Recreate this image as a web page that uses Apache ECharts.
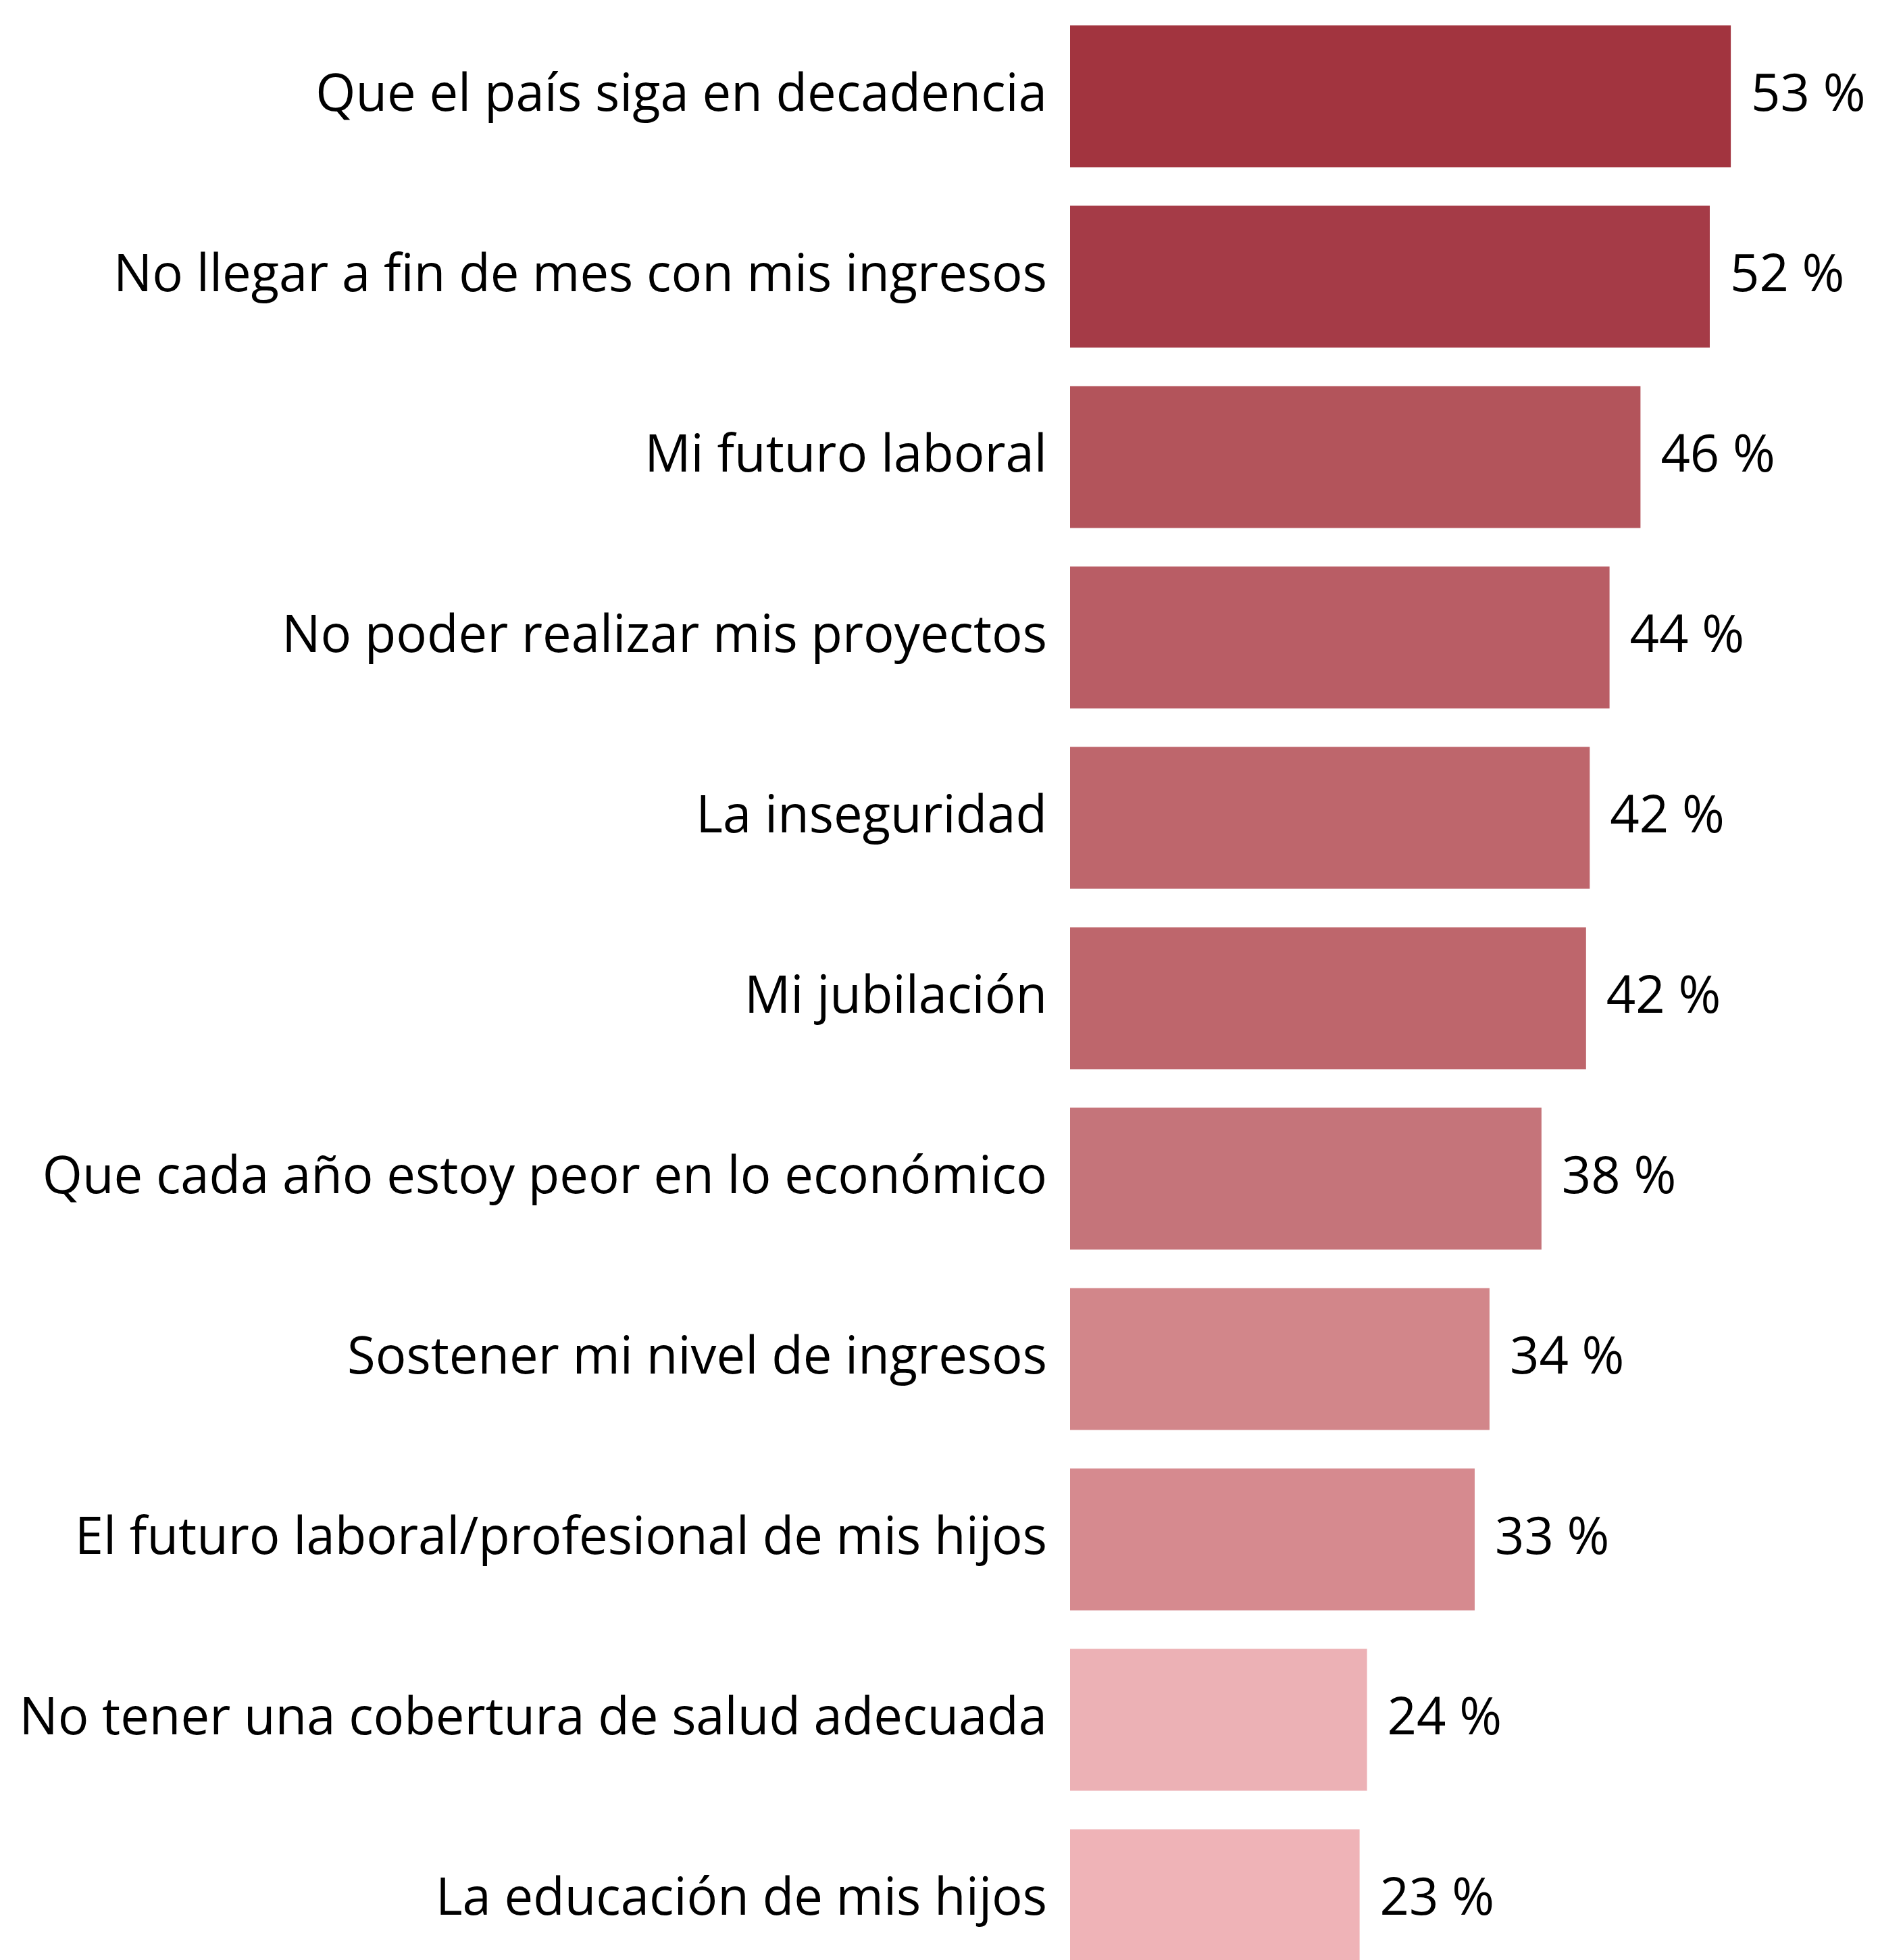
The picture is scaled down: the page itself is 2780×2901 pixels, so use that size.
<!DOCTYPE html>
<html>
<head>
<meta charset="utf-8">
<script src="https://cdn.jsdelivr.net/npm/echarts@6/dist/echarts.min.js"></script>
<style>
  html, body { margin: 0; padding: 0; background: #fff; }
  #chart { width: 2780px; height: 2901px; }
</style>
</head>
<body>
<div id="chart"></div>
<script>
// categorías de arriba hacia abajo
const categories = [
  'Que el país siga en decadencia',
  'No llegar a fin de mes con mis ingresos',
  'Mi futuro laboral',
  'No poder realizar mis proyectos',
  'La inseguridad',
  'Mi jubilación',
  'Que cada año estoy peor en lo económico',
  'Sostener mi nivel de ingresos',
  'El futuro laboral/profesional de mis hijos',
  'No tener una cobertura de salud adecuada',
  'La educación de mis hijos',
];
const values = [53.4, 51.7, 46.1, 43.6, 42.0, 41.7, 38.1, 33.9, 32.7, 24.0, 23.4];
const colors = [
  '#A2343F', '#A53B47', '#B3545B', '#B95D65', '#BE666C', '#BE666C',
  '#C5747A', '#D2868A', '#D68A8F', '#ECB1B5', '#EFB3B7',
];

const chart = echarts.init(document.getElementById('chart'));
chart.setOption({
  animation: false,
  grid: { left: 1584, right: 97, top: 9, height: 2937, outerBoundsMode: 'none' },
  xAxis: { type: 'value', min: 0, max: 60, show: false },
  yAxis: {
    type: 'category',
    inverse: true,
    data: categories,
    axisLine: { show: false },
    axisTick: { show: false },
    axisLabel: {
      fontFamily: 'Open Sans', fontSize: 76, color: '#000', margin: 34,
      padding: [11, 0, 0, 0],
    },
  },
  series: [{
    type: 'bar',
    barWidth: 210,
    data: values.map((v, i) => ({ value: v, itemStyle: { color: colors[i] } })),
    label: {
      show: true,
      position: 'right',
      distance: 30,
      fontFamily: 'Open Sans',
      fontSize: 76,
      color: '#000',
      padding: [11, 0, 0, 0],
      formatter: (p) => Math.round(p.value) + ' %',
    },
  }],
});
</script>
</body>
</html>
